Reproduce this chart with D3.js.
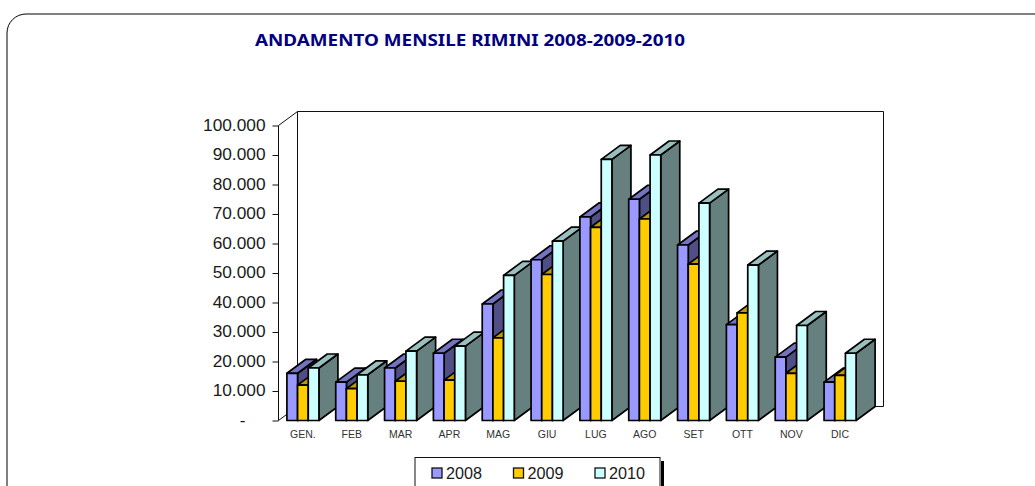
<!DOCTYPE html>
<html><head><meta charset="utf-8">
<script src="https://cdn.jsdelivr.net/npm/d3@7"></script>
<style>html,body{margin:0;padding:0;background:#fff;overflow:hidden}svg{display:block}</style>
</head><body><div id="chart"></div>
<script>
const categories = ["GEN.","FEB","MAR","APR","MAG","GIU","LUG","AGO","SET","OTT","NOV","DIC"];
const years = ["2008","2009","2010"];
const values2008 = [16000,13000,17800,22800,39500,54500,69000,75000,59500,32500,21500,13000];
const values2009 = [12000,10800,13300,13700,28000,49500,65500,68300,53000,36500,16000,15300];
const values2010 = [17800,15500,23500,25200,49200,60800,88500,90000,73700,52700,32200,22800];
const tickValues = [0,10000,20000,30000,40000,50000,60000,70000,80000,90000,100000];
const tickLabels = ["-","10.000","20.000","30.000","40.000","50.000","60.000","70.000","80.000","90.000","100.000"];
const titleText = "ANDAMENTO MENSILE RIMINI 2008-2009-2010";
const frontColors = ["#9999FF","#FFCC00","#CCFFFF"];
const sideColors = ["#4F4F85","#856A00","#668080"];
const topColors = ["#7373BF","#BF9900","#99BFBF"];

const W = 1035, H = 486;
const dx = 19, dy = -14;
const svg = d3.select("#chart").append("svg").attr("width",W).attr("height",H);

// outer frame
svg.append("rect").attr("x",7).attr("y",14).attr("width",1060).attr("height",520)
  .attr("rx",19).attr("ry",19).attr("fill","#fff").attr("stroke","#000").attr("stroke-width",1);

svg.append("text").attr("x",255).attr("y",46).attr("font-family","'Noto Sans',sans-serif")
  .attr("font-weight","bold").attr("font-size",16).attr("fill","#000080")
  .attr("textLength",430).attr("lengthAdjust","spacingAndGlyphs").text(titleText);

const y = d3.scaleLinear().domain([0,100000]).range([420.5,125.5]);
const x = d3.scaleBand().domain(categories).range([278.5,864.5]).paddingInner(0.344).paddingOuter(0.172);
const xi = d3.scaleBand().domain(years).range([0,x.bandwidth()]);

// walls
const x0 = x.range()[0], x1 = x.range()[1];
const yb = y(0), yt = y(100000);
svg.append("path").attr("fill","#fff").attr("stroke","#111").attr("stroke-width",1)
  .attr("d",`M${x0+dx},${yb+dy}V${yt+dy}H${x1+dx}V${yb+dy}H${x0+dx}`);
svg.append("path").attr("fill","none").attr("stroke","#111").attr("stroke-width",1)
  .attr("d",`M${x0},${yb}L${x0+dx},${yb+dy}M${x0},${yt}L${x0+dx},${yt+dy}`);

// y axis
const axis = d3.axisLeft(y).tickValues(tickValues).tickSize(6).tickPadding(7)
  .tickFormat((d,i)=>tickLabels[i]);
const gy = svg.append("g").attr("transform",`translate(${x0},0)`).call(axis);
gy.select(".domain").attr("stroke","#111").attr("d",`M-0,${yb}V${yt}`);
gy.selectAll("line").attr("stroke","#111");
gy.selectAll("text").attr("font-family","'Liberation Sans',Arial,sans-serif").attr("font-size",17.3).attr("fill","#1a1a1a")
  .attr("dx",(d,i)=>tickLabels[i]==="-"?-20:0).attr("y",-0.5).attr("dy","0.3em");

// x labels
const xa = d3.axisBottom(x).tickSize(0).tickPadding(0);
const gx = svg.append("g").attr("transform",`translate(0,${yb+8})`).call(xa);
gx.select(".domain").remove();
gx.selectAll("text").attr("font-family","'Liberation Sans',Arial,sans-serif").attr("font-size",10.5).attr("fill","#333")
  .attr("dy","0.9em");

// bars
const series = [values2008,values2009,values2010];
const bars = svg.append("g").attr("stroke","#000").attr("stroke-width",1.7).attr("stroke-linejoin","round");
categories.forEach((c,ci)=>{
  series.forEach((s,si)=>{
    const l = x(c)+xi(years[si]), r = l+xi.bandwidth(), t = y(s[ci]);
    bars.append("path").attr("fill",sideColors[si])
      .attr("d",`M${r},${yb}L${r+dx},${yb+dy}V${t+dy}L${r},${t}Z`);
    bars.append("path").attr("fill",topColors[si])
      .attr("d",`M${l},${t}L${l+dx},${t+dy}H${r+dx}L${r},${t}Z`);
    bars.append("rect").attr("x",l).attr("y",t).attr("width",r-l).attr("height",yb-t).attr("fill",frontColors[si]);
  });
});

// legend
const legX = 415, legY = 457.5, legW = 245;
svg.append("rect").attr("x",legX+246).attr("y",461).attr("width",3).attr("height",30).attr("fill","#000");
svg.append("rect").attr("x",legX).attr("y",legY).attr("width",legW).attr("height",40)
  .attr("fill","#fff").attr("stroke","#111");
const legendX = d3.scalePoint().domain(years).range([432,595]);
years.forEach((yr,i)=>{
  const lx = legendX(yr);
  svg.append("rect").attr("x",lx).attr("y",468).attr("width",10).attr("height",10)
    .attr("fill",frontColors[i]).attr("stroke","#111").attr("stroke-width",1.3);
  svg.append("text").attr("x",lx+14).attr("y",479).attr("font-family","'Liberation Sans',Arial,sans-serif")
    .attr("font-size",16.2).attr("fill","#1a1a1a").text(yr);
});
</script></body></html>
